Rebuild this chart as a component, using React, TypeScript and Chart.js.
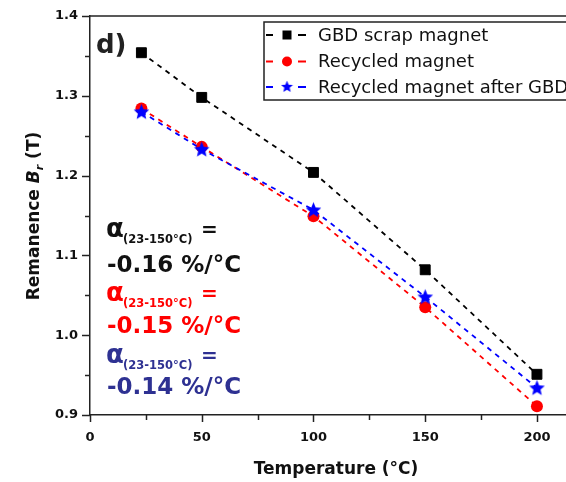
import React, { useEffect, useRef } from "react";
import { Chart, registerables } from "chart.js";

Chart.register(...registerables);

// ---- data ----
const temperatures = [23, 50, 100, 150, 200];
const gbdScrap = [1.354, 1.298, 1.204, 1.082, 0.951];
const recycled = [1.284, 1.236, 1.149, 1.035, 0.911];
const recycledAfterGbd = [1.28, 1.233, 1.157, 1.048, 0.934];

const seriesLabels = ["GBD scrap magnet", "Recycled magnet", "Recycled magnet after GBD"];
const seriesColors = ["#000000", "#ff0000", "#0000ff"];

const xTicks = [0, 50, 100, 150, 200];
const xMinorTicks = [25, 75, 125, 175];
const yTicks = [0.9, 1.0, 1.1, 1.2, 1.3, 1.4];
const yMinorTicks = [0.95, 1.05, 1.15, 1.25, 1.35];

const xTitle = "Temperature (°C)";
const alphaRange = "(23-150°C)";
const alphaValues = ["-0.16 %/°C", "-0.15 %/°C", "-0.14 %/°C"];
const alphaColors = ["#111111", "#ff0000", "#2e3192"];

const FONT = '"DejaVu Sans", "Liberation Sans", Arial, sans-serif';

function makeStar(color: string, size: number, inner = 0.45) {
  const c = document.createElement("canvas");
  c.width = size;
  c.height = size;
  const ctx = c.getContext("2d")!;
  const cx = size / 2;
  const cy = size / 2 + 0.5;
  const R = size / 2 - 0.3;
  const r = R * inner;
  ctx.beginPath();
  for (let i = 0; i < 10; i++) {
    const a = -Math.PI / 2 + (i * Math.PI) / 5;
    const rad = i % 2 === 0 ? R : r;
    const px = cx + rad * Math.cos(a);
    const py = cy + rad * Math.sin(a);
    if (i === 0) ctx.moveTo(px, py);
    else ctx.lineTo(px, py);
  }
  ctx.closePath();
  ctx.fillStyle = color;
  ctx.fill();
  return c;
}

export default function App() {
  const ref = useRef<HTMLCanvasElement>(null);

  useEffect(() => {
    const canvas = ref.current!;
    const star = makeStar(seriesColors[2], 17);
    const legendStar = makeStar(seriesColors[2], 13);

    const decorations = {
      id: "decorations",
      afterDraw(chart: any) {
        const ctx = chart.ctx as CanvasRenderingContext2D;
        const xs = chart.scales.x;
        const ys = chart.scales.y;
        const area = chart.chartArea;
        ctx.save();

        // top frame line
        ctx.strokeStyle = "#222";
        ctx.lineWidth = 1.5;
        ctx.beginPath();
        ctx.moveTo(area.left, area.top);
        ctx.lineTo(area.right + 5, area.top);
        ctx.stroke();

        // tick marks
        ctx.lineWidth = 1.5;
        const drawYTick = (v: number, len: number) => {
          const y = Math.round(ys.getPixelForValue(v)) + 0.5;
          ctx.beginPath();
          ctx.moveTo(area.left, y);
          ctx.lineTo(area.left - len, y);
          ctx.stroke();
        };
        const drawXTick = (v: number, len: number) => {
          const x = Math.round(xs.getPixelForValue(v)) + 0.5;
          ctx.beginPath();
          ctx.moveTo(x, area.bottom);
          ctx.lineTo(x, area.bottom + len);
          ctx.stroke();
        };
        yTicks.forEach((v) => drawYTick(v, 8));
        yMinorTicks.forEach((v) => drawYTick(v, 5));
        xTicks.forEach((v) => drawXTick(v, 7));
        xMinorTicks.forEach((v) => drawXTick(v, 5));

        // panel label
        ctx.fillStyle = "#222";
        ctx.font = `bold 26px ${FONT}`;
        ctx.textAlign = "left";
        ctx.textBaseline = "alphabetic";
        ctx.fillText("d)", 96, 53);

        // x-axis title
        ctx.fillStyle = "#111";
        ctx.font = `bold 17px ${FONT}`;
        ctx.textAlign = "center";
        ctx.fillText(xTitle, 336, 474);
        ctx.textAlign = "left";

        // y-axis title
        ctx.save();
        ctx.translate(39, 216);
        ctx.rotate(-Math.PI / 2);
        const parts = [
          { t: "Remanence ", f: `bold 17px ${FONT}`, dy: 0 },
          { t: "B", f: `italic bold 17px ${FONT}`, dy: 0 },
          { t: "r", f: `italic bold 11px ${FONT}`, dy: 4 },
          { t: " (T)", f: `bold 17px ${FONT}`, dy: 0 },
        ];
        let total = 0;
        parts.forEach((p) => {
          ctx.font = p.f;
          total += ctx.measureText(p.t).width;
        });
        let px = -total / 2;
        ctx.fillStyle = "#111";
        parts.forEach((p) => {
          ctx.font = p.f;
          ctx.fillText(p.t, px, p.dy);
          px += ctx.measureText(p.t).width;
        });
        ctx.restore();

        // legend
        ctx.strokeStyle = "#222";
        ctx.lineWidth = 1.5;
        ctx.strokeRect(264, 22, 400, 78);
        const rows = [35, 61.5, 87];
        rows.forEach((cy, i) => {
          const col = seriesColors[i];
          ctx.strokeStyle = col;
          ctx.lineWidth = 2;
          ctx.beginPath();
          ctx.moveTo(266, cy);
          ctx.lineTo(273, cy);
          ctx.moveTo(298, cy);
          ctx.lineTo(306, cy);
          ctx.stroke();
          ctx.fillStyle = col;
          if (i === 0) {
            ctx.fillRect(282.5, cy - 4.5, 9, 9);
          } else if (i === 1) {
            ctx.beginPath();
            ctx.arc(287, cy, 5, 0, Math.PI * 2);
            ctx.fill();
          } else {
            ctx.drawImage(legendStar, 287 - 6.5, cy - 7);
          }
          ctx.fillStyle = "#111";
          ctx.font = `18px ${FONT}`;
          ctx.textBaseline = "middle";
          ctx.fillText(seriesLabels[i], 318, cy + 1);
        });

        // alpha annotations
        ctx.textBaseline = "alphabetic";
        const blocks = [
          { b1: 237, b2: 272 },
          { b1: 301, b2: 333 },
          { b1: 363, b2: 394 },
        ];
        blocks.forEach((bl, i) => {
          ctx.fillStyle = alphaColors[i];
          ctx.font = `bold 26px ${FONT}`;
          ctx.fillText("α", 106, bl.b1);
          ctx.font = `bold 11.5px ${FONT}`;
          ctx.fillText(alphaRange, 123, bl.b1 + 6);
          ctx.font = `bold 20px ${FONT}`;
          ctx.fillText("=", 201, bl.b1 - 1);
          ctx.font = `bold 23px ${FONT}`;
          ctx.fillText(alphaValues[i], 107, bl.b2);
        });

        ctx.restore();
      },
    };

    const chart = new Chart(canvas, {
      type: "line",
      data: {
        datasets: [
          {
            label: seriesLabels[0],
            data: temperatures.map((t, i) => ({ x: t, y: gbdScrap[i] })),
            borderColor: seriesColors[0],
            backgroundColor: seriesColors[0],
            borderWidth: 1.8,
            borderDash: [5, 5],
            pointStyle: "rect",
            pointRadius: 7,
            pointBorderWidth: 1,
            order: 3,
          },
          {
            label: seriesLabels[1],
            data: temperatures.map((t, i) => ({ x: t, y: recycled[i] })),
            borderColor: seriesColors[1],
            backgroundColor: seriesColors[1],
            borderWidth: 1.8,
            borderDash: [5, 5],
            pointStyle: "circle",
            pointRadius: 6,
            pointBorderWidth: 0,
            order: 2,
          },
          {
            label: seriesLabels[2],
            data: temperatures.map((t, i) => ({ x: t, y: recycledAfterGbd[i] })),
            borderColor: seriesColors[2],
            backgroundColor: seriesColors[2],
            borderWidth: 1.8,
            borderDash: [5, 5],
            pointStyle: star as any,
            pointRadius: 8,
            order: 1,
          },
        ],
      },
      options: {
        animation: false,
        responsive: false,
        devicePixelRatio: 1,
        layout: { autoPadding: false, padding: { top: 16, right: 0, left: 0, bottom: 0 } },
        plugins: { legend: { display: false }, tooltip: { enabled: false } },
        scales: {
          x: {
            type: "linear",
            min: 0,
            max: 213,
            afterBuildTicks: (s: any) => {
              s.ticks = xTicks.map((v) => ({ value: v }));
            },
            afterFit: (s: any) => {
              s.height = 67;
              s.paddingLeft = 0;
              s.paddingRight = 0;
            },
            grid: { display: false, drawTicks: false },
            border: { display: true, color: "#222", width: 1.5 },
            ticks: {
              padding: 15,
              color: "#111",
              font: { family: FONT, size: 13, weight: "bold" },
              callback: (v: any) => String(v),
            },
            title: { display: false },
          },
          y: {
            type: "linear",
            min: 0.9,
            max: 1.4,
            afterBuildTicks: (s: any) => {
              s.ticks = yTicks.map((v) => ({ value: v }));
            },
            afterFit: (s: any) => {
              s.width = 90;
              s.paddingTop = 0;
              s.paddingBottom = 0;
            },
            grid: { display: false, drawTicks: false },
            border: { display: true, color: "#222", width: 1.5 },
            ticks: {
              padding: 12,
              color: "#111",
              font: { family: FONT, size: 13, weight: "bold" },
              callback: (v: any) => Number(v).toFixed(1),
            },
          },
        },
      },
      plugins: [decorations],
    } as any);

    return () => chart.destroy();
  }, []);

  return (
    <div style={{ position: "absolute", left: 0, top: 0, width: 566, height: 482, background: "#fff" }}>
      <canvas ref={ref} width={566} height={482} style={{ display: "block", width: 566, height: 482 }} />
    </div>
  );
}
